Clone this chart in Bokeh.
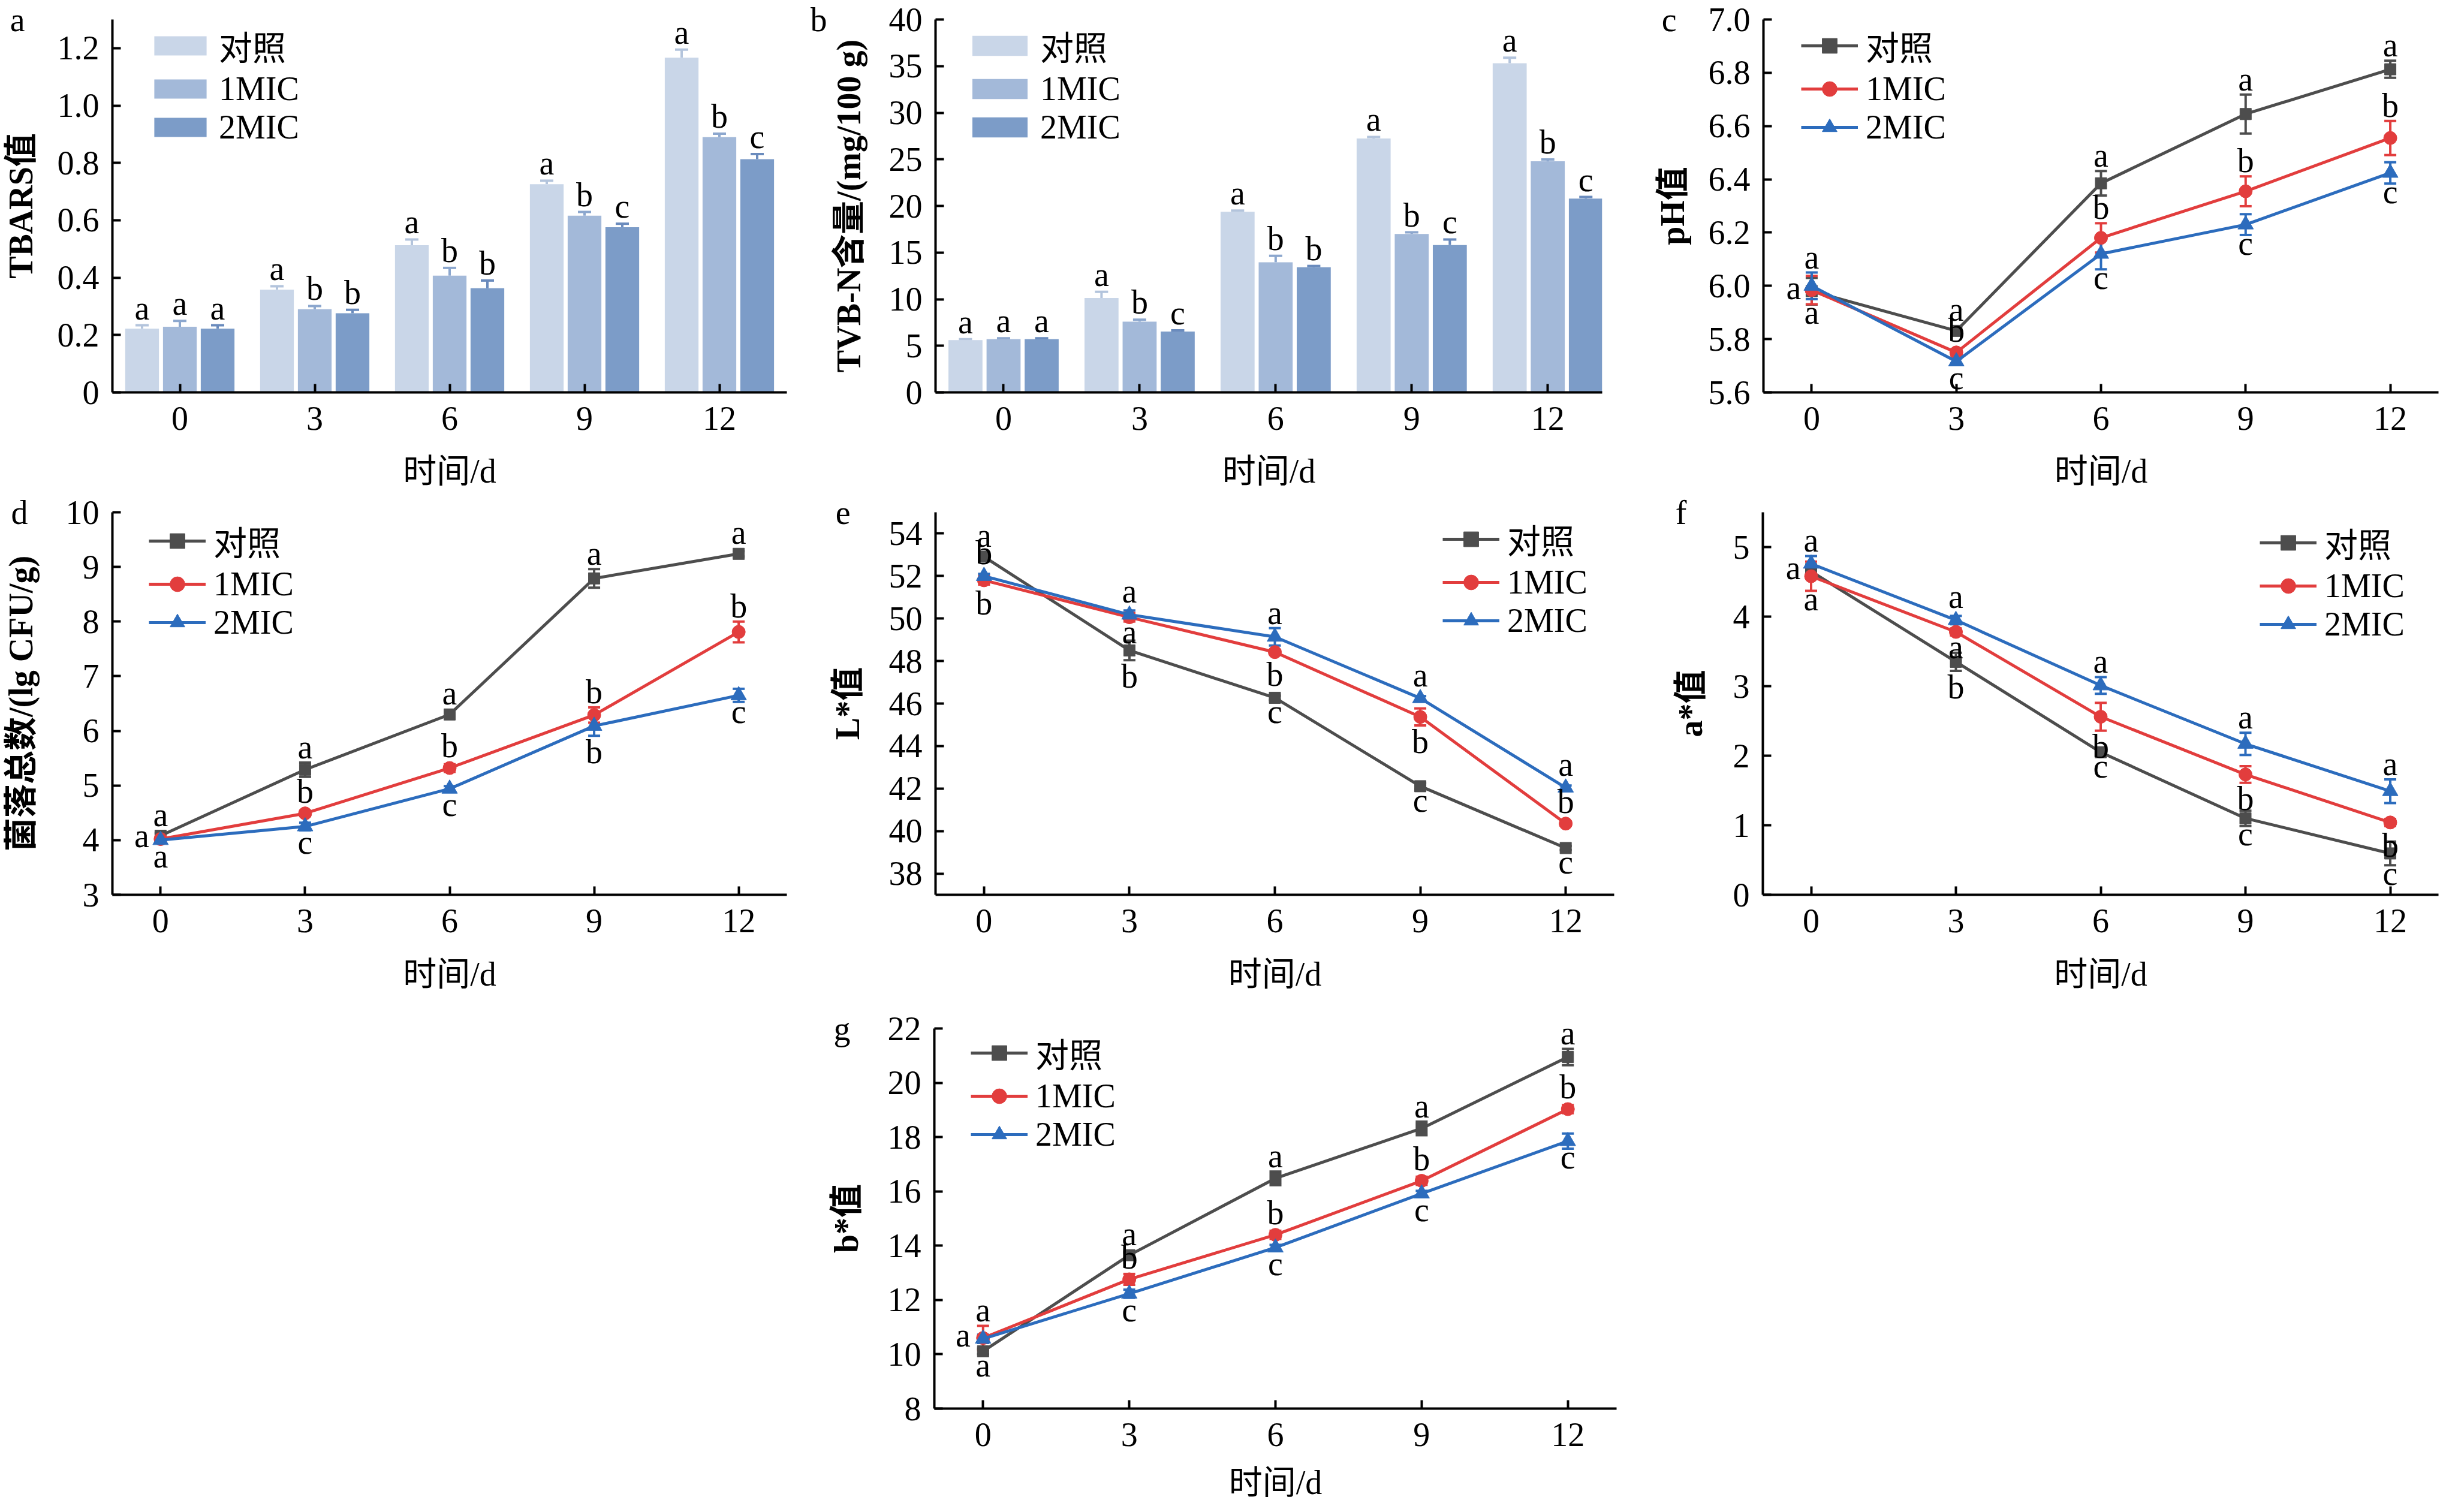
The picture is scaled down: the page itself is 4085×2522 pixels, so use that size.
import math
from bokeh.plotting import figure
from bokeh.layouts import row, column
from bokeh.models import (ColumnDataSource, Whisker, TeeHead, Legend, LegendItem,
                          LinearAxis, FixedTicker, Range1d, Spacer)
from bokeh.core.properties import value
from bokeh.embed import file_html
from bokeh.resources import INLINE

# ---------------- data ----------------
days = [0, 3, 6, 9, 12]
day_labels = ["0", "3", "6", "9", "12"]
series_names = ["对照", "1MIC", "2MIC"]

# a  TBARS
tbars_ctrl = [0.222, 0.358, 0.513, 0.726, 1.167]
tbars_ctrl_err = [0.012, 0.012, 0.020, 0.012, 0.028]
tbars_1mic = [0.229, 0.290, 0.407, 0.616, 0.890]
tbars_1mic_err = [0.020, 0.011, 0.027, 0.013, 0.012]
tbars_2mic = [0.222, 0.276, 0.363, 0.576, 0.813]
tbars_2mic_err = [0.012, 0.012, 0.027, 0.012, 0.018]
tbars_let_ctrl = ["a", "a", "a", "a", "a"]
tbars_let_1mic = ["a", "b", "b", "b", "b"]
tbars_let_2mic = ["a", "b", "b", "c", "c"]
tbars_yticks = [0, 0.2, 0.4, 0.6, 0.8, 1.0, 1.2]
tbars_ylabels = ["0", "0.2", "0.4", "0.6", "0.8", "1.0", "1.2"]

# b  TVB-N
tvbn_ctrl = [5.61, 10.13, 19.37, 27.23, 35.31]
tvbn_ctrl_err = [0.10, 0.66, 0.13, 0.17, 0.59]
tvbn_1mic = [5.71, 7.59, 13.96, 17.00, 24.79]
tvbn_1mic_err = [0.10, 0.20, 0.69, 0.17, 0.20]
tvbn_2mic = [5.71, 6.53, 13.43, 15.81, 20.79]
tvbn_2mic_err = [0.10, 0.13, 0.13, 0.59, 0.17]
tvbn_let_ctrl = ["a", "a", "a", "a", "a"]
tvbn_let_1mic = ["a", "b", "b", "b", "b"]
tvbn_let_2mic = ["a", "c", "b", "c", "c"]
tvbn_yticks = [0, 5, 10, 15, 20, 25, 30, 35, 40]
tvbn_ylabels = ["0", "5", "10", "15", "20", "25", "30", "35", "40"]

# c  pH
ph_ctrl = [5.980, 5.831, 6.385, 6.645, 6.813]
ph_ctrl_err = [0.050, 0.010, 0.046, 0.073, 0.032]
ph_1mic = [5.984, 5.750, 6.180, 6.355, 6.555]
ph_1mic_err = [0.053, 0.012, 0.055, 0.056, 0.064]
ph_2mic = [6.000, 5.716, 6.120, 6.230, 6.424]
ph_2mic_err = [0.050, 0.012, 0.058, 0.039, 0.040]
ph_let_ctrl = ["a", "a", "a", "a", "a"]
ph_let_1mic = ["a", "b", "b", "b", "b"]
ph_let_2mic = ["a", "c", "c", "c", "c"]
ph_side_ctrl = ["l", "u", "u", "u", "u"]
ph_side_1mic = ["d", "u", "u", "u", "u"]
ph_side_2mic = ["u", "d", "d", "d", "d"]
ph_yticks = [5.6, 5.8, 6.0, 6.2, 6.4, 6.6, 6.8, 7.0]
ph_ylabels = ["5.6", "5.8", "6.0", "6.2", "6.4", "6.6", "6.8", "7.0"]

# d  total viable count
tvc_ctrl = [4.08, 5.29, 6.30, 8.79, 9.24]
tvc_ctrl_err = [0.05, 0.13, 0.04, 0.17, 0.05]
tvc_1mic = [4.02, 4.49, 5.32, 6.29, 7.81]
tvc_1mic_err = [0.04, 0.05, 0.07, 0.14, 0.19]
tvc_2mic = [4.00, 4.25, 4.94, 6.09, 6.65]
tvc_2mic_err = [0.04, 0.07, 0.05, 0.18, 0.12]
tvc_let_ctrl = ["a", "a", "a", "a", "a"]
tvc_let_1mic = ["a", "b", "b", "b", "b"]
tvc_let_2mic = ["a", "c", "c", "b", "c"]
tvc_side_ctrl = ["u", "u", "u", "u", "u"]
tvc_side_1mic = ["l", "u", "u", "u", "u"]
tvc_side_2mic = ["d", "d", "d", "d", "d"]
tvc_yticks = [3, 4, 5, 6, 7, 8, 9, 10]
tvc_ylabels = ["3", "4", "5", "6", "7", "8", "9", "10"]

# e  L*
l_ctrl = [52.91, 48.50, 46.27, 42.11, 39.20]
l_ctrl_err = [0.15, 0.46, 0.10, 0.15, 0.10]
l_1mic = [51.80, 50.06, 48.42, 45.37, 40.35]
l_1mic_err = [0.20, 0.20, 0.10, 0.40, 0.10]
l_2mic = [52.00, 50.18, 49.14, 46.25, 42.04]
l_2mic_err = [0.10, 0.20, 0.41, 0.10, 0.10]
l_let_ctrl = ["a", "b", "c", "c", "c"]
l_let_1mic = ["b", "a", "b", "b", "b"]
l_let_2mic = ["b", "a", "a", "a", "a"]
l_side_ctrl = ["u", "d", "d", "d", "d"]
l_side_1mic = ["d", "d", "d", "d", "u"]
l_side_2mic = ["u", "u", "u", "u", "u"]
l_yticks = [38, 40, 42, 44, 46, 48, 50, 52, 54]
l_ylabels = ["38", "40", "42", "44", "46", "48", "50", "52", "54"]

# f  a*
a_ctrl = [4.65, 3.35, 2.05, 1.10, 0.595]
a_ctrl_err = [0.10, 0.13, 0.05, 0.11, 0.17]
a_1mic = [4.58, 3.78, 2.56, 1.73, 1.04]
a_1mic_err = [0.21, 0.05, 0.20, 0.12, 0.05]
a_2mic = [4.76, 3.95, 3.01, 2.17, 1.49]
a_2mic_err = [0.11, 0.06, 0.12, 0.16, 0.17]
a_let_ctrl = ["a", "b", "c", "c", "c"]
a_let_1mic = ["a", "a", "b", "b", "b"]
a_let_2mic = ["a", "a", "a", "a", "a"]
a_side_ctrl = ["l", "d", "d", "d", "d"]
a_side_1mic = ["d", "d", "d", "d", "d"]
a_side_2mic = ["u", "u", "u", "u", "u"]
a_yticks = [0, 1, 2, 3, 4, 5]
a_ylabels = ["0", "1", "2", "3", "4", "5"]

# g  b*
b_ctrl = [10.11, 13.65, 16.48, 18.32, 20.95]
b_ctrl_err = [0.10, 0.10, 0.25, 0.25, 0.30]
b_1mic = [10.60, 12.76, 14.40, 16.39, 19.03]
b_1mic_err = [0.45, 0.20, 0.15, 0.15, 0.15]
b_2mic = [10.57, 12.23, 13.93, 15.92, 17.85]
b_2mic_err = [0.15, 0.15, 0.10, 0.10, 0.28]
b_let_ctrl = ["a", "a", "a", "a", "a"]
b_let_1mic = ["a", "b", "b", "b", "b"]
b_let_2mic = ["a", "c", "c", "c", "c"]
b_side_ctrl = ["d", "u", "u", "u", "u"]
b_side_1mic = ["u", "u", "u", "u", "u"]
b_side_2mic = ["l", "d", "d", "d", "d"]
b_yticks = [8, 10, 12, 14, 16, 18, 20, 22]
b_ylabels = ["8", "10", "12", "14", "16", "18", "20", "22"]

# ---------------- style ----------------
FONT = "Liberation Serif, Noto Sans CJK SC"
FSPX = 56
FS = "56px"
TEXT_H = 62          # approx. line box of a 56px Liberation Serif text
MID_TO_BASE = 19     # distance from text middle to baseline
BAR_COLORS = ["#C9D6E8", "#A3B9D9", "#7C9CC8"]
ERR_COLORS = ["#B3C4DC", "#8CA7CE", "#6A8BBD"]
LINE_COLORS = ["#4D4D4D", "#E23D3D", "#2C6CBD"]
MARKERS = ["square", "circle", "triangle"]
MSIZE = [19, 22, 26]
CW = {"0": 0.5, "1": 0.5, "2": 0.5, "3": 0.5, "4": 0.5, "5": 0.5, "6": 0.5, "7": 0.5,
      "8": 0.5, "9": 0.5, ".": 0.25, "a": 0.444, "b": 0.5, "c": 0.444, "d": 0.5,
      "e": 0.444, "f": 0.333, "g": 0.5}

FRAME = {}


def text_w(s):
    return sum(CW.get(ch, 0.5) for ch in s) * FSPX


def make_fig(w, h, bl, br, bt, bb, xr, yr, xticks, xlabels, yticks, ylabels,
             letter, letter_r, ylab, ylab_c, xlab_standoff=35):
    p = figure(width=w, height=h, title=None, x_range=Range1d(*xr), y_range=Range1d(*yr),
               output_backend="svg", toolbar_location=None,
               min_border_left=bl, min_border_right=br, min_border_top=bt, min_border_bottom=bb)
    p.outline_line_color = None
    p.xgrid.visible = False
    p.ygrid.visible = False
    p.xaxis.ticker = FixedTicker(ticks=xticks)
    p.xaxis.major_label_overrides = dict(zip(xticks, xlabels))
    p.yaxis.ticker = FixedTicker(ticks=yticks)
    p.yaxis.major_label_overrides = dict(zip(yticks, ylabels))
    for ax in list(p.xaxis) + list(p.yaxis):
        ax.axis_line_width = 4
        ax.axis_line_color = "black"
        ax.major_tick_line_width = 4
        ax.major_tick_line_color = "black"
        ax.major_tick_in = 14
        ax.major_tick_out = 0
        ax.minor_tick_in = 0
        ax.minor_tick_out = 0
        ax.major_label_text_font = FONT
        ax.major_label_text_font_size = FS
        ax.major_label_text_color = "black"
    p.xaxis.major_label_standoff = 24
    p.yaxis.major_label_standoff = 22
    # x axis title
    p.xaxis.axis_label = "时间/d"
    p.xaxis.axis_label_text_font = FONT
    p.xaxis.axis_label_text_font_size = FS
    p.xaxis.axis_label_text_font_style = "normal"
    p.xaxis.axis_label_text_color = "black"
    p.xaxis.axis_label_standoff = xlab_standoff
    # outer left axis: panel letter (as its only tick label) and the y title
    w1 = 22 + max(text_w(s) for s in ylabels)
    wl = text_w(letter)
    s2 = int(round(letter_r - w1))
    s3 = int(round(ylab_c - TEXT_H / 2 - (letter_r + wl)))
    top = yr[1]
    ax2 = LinearAxis(ticker=FixedTicker(ticks=[top]), major_label_overrides={top: letter},
                     axis_line_color=None, major_tick_line_color=None,
                     minor_tick_line_color=None, major_tick_in=0, major_tick_out=0,
                     minor_tick_in=0, minor_tick_out=0,
                     major_label_standoff=s2, major_label_text_font=FONT,
                     major_label_text_font_size=FS, major_label_text_color="black",
                     axis_label=ylab, axis_label_standoff=s3, axis_label_text_font=FONT,
                     axis_label_text_font_size=FS, axis_label_text_font_style="bold",
                     axis_label_text_color="black")
    p.add_layout(ax2, "left")
    FRAME[p.id] = (w - bl - br, h - bt - bb)
    return p


def add_legend(p, items, x, y, gw, gh, standoff, spacing):
    lg = Legend(items=items, location=(x, y), orientation="vertical",
                border_line_color=None, background_fill_alpha=0,
                label_text_font=FONT, label_text_font_size=FS, label_text_color="black",
                glyph_width=gw, glyph_height=gh, label_standoff=standoff,
                spacing=spacing, padding=0, margin=0)
    p.add_layout(lg)


def bar_panel(p, vals, errs, letters):
    offs = [-0.28, 0.0, 0.28]
    items = []
    for k in range(3):
        xs = [i + offs[k] for i in range(len(days))]
        up = [v + e for v, e in zip(vals[k], errs[k])]
        src = ColumnDataSource(dict(x=xs, top=vals[k], up=up, lab=letters[k]))
        r = p.vbar(x="x", top="top", width=0.25, source=src,
                   fill_color=BAR_COLORS[k], line_color=None)
        p.add_layout(Whisker(base="x", lower="top", upper="up", source=src, dimension="height",
                             line_color=ERR_COLORS[k], line_width=4,
                             upper_head=TeeHead(size=22, line_color=ERR_COLORS[k], line_width=4),
                             lower_head=None))
        p.text(x="x", y="up", text="lab", source=src, text_align="center",
               text_baseline="middle", y_offset=-(10 + MID_TO_BASE), text_font=value(FONT),
               text_font_size=value(FS), text_color="black")
        items.append(LegendItem(label=series_names[k], renderers=[r]))
    return items


def line_panel(p, vals, errs, letters, sides, yr):
    fw, fh = FRAME[p.id]
    ppu = fh / (yr[1] - yr[0])
    gap = 7
    items = []
    groups = {"u": dict(x=[], y=[], t=[], xo=[], yo=[]),
              "d": dict(x=[], y=[], t=[], xo=[], yo=[]),
              "l": dict(x=[], y=[], t=[], xo=[], yo=[])}
    for k in range(3):
        c = LINE_COLORS[k]
        lo = [v - e for v, e in zip(vals[k], errs[k])]
        hi = [v + e for v, e in zip(vals[k], errs[k])]
        src = ColumnDataSource(dict(x=days, y=vals[k], lo=lo, hi=hi))
        ln = p.line("x", "y", source=src, line_color=c, line_width=5)
        sc = p.scatter("x", "y", source=src, marker=MARKERS[k], size=MSIZE[k],
                       fill_color=c, line_color=c)
        p.add_layout(Whisker(base="x", lower="lo", upper="hi", source=src, dimension="height",
                             line_color=c, line_width=4,
                             upper_head=TeeHead(size=20, line_color=c, line_width=4),
                             lower_head=TeeHead(size=20, line_color=c, line_width=4)))
        items.append(LegendItem(label=series_names[k], renderers=[ln, sc]))
        r = MSIZE[k] / 2
        for i in range(len(days)):
            s = sides[k][i]
            t = letters[k][i]
            reach = max(errs[k][i] * ppu, r)
            g = groups[s]
            g["x"].append(days[i])
            g["y"].append(vals[k][i])
            g["t"].append(t)
            if s == "u":
                g["xo"].append(0)
                g["yo"].append(-(reach + gap + MID_TO_BASE))
            elif s == "d":
                h = (0.69 if t == "b" else 0.46) * FSPX
                g["xo"].append(0)
                g["yo"].append(reach + gap + h - MID_TO_BASE)
            else:
                g["xo"].append(-(r + 8))
                g["yo"].append(-6)
    for s, g in groups.items():
        if not g["x"]:
            continue
        p.text(x="x", y="y", text="t", x_offset="xo", y_offset="yo",
               source=ColumnDataSource(g), text_align="right" if s == "l" else "center",
               text_baseline="middle", text_font=value(FONT), text_font_size=value(FS),
               text_color="black")
    return items


bar_xticks = [0, 1, 2, 3, 4]
line_xr = (-1, 13)

# ---- a ----
pa = make_fig(1352, 822, 178, 40, 32, 168, (-0.5, 4.5), (0, 1.3),
              bar_xticks, day_labels, tbars_yticks, tbars_ylabels, "a", 143, "TBARS值", 147)
items = bar_panel(pa, [tbars_ctrl, tbars_1mic, tbars_2mic],
                  [tbars_ctrl_err, tbars_1mic_err, tbars_2mic_err],
                  [tbars_let_ctrl, tbars_let_1mic, tbars_let_2mic])
add_legend(pa, items, 59, 410, 109, 40, 10, 0)

# ---- b ----
pb = make_fig(1360, 822, 208, 40, 32, 168, (-0.5, 4.4), (0, 40),
              bar_xticks, day_labels, tvbn_yticks, tvbn_ylabels, "b", 178,
              "TVB-N含量/(mg/100 g)", 139)
items = bar_panel(pb, [tvbn_ctrl, tvbn_1mic, tvbn_2mic],
                  [tvbn_ctrl_err, tvbn_1mic_err, tvbn_2mic_err],
                  [tvbn_let_ctrl, tvbn_let_1mic, tvbn_let_2mic])
add_legend(pb, items, 50, 410, 115, 42, 10, 0)

# ---- c ----
pc = make_fig(1357, 822, 229, 2, 32, 168, line_xr, (5.6, 7.0),
              days, day_labels, ph_yticks, ph_ylabels, "c", 142, "pH值", 146)
items = line_panel(pc, [ph_ctrl, ph_1mic, ph_2mic], [ph_ctrl_err, ph_1mic_err, ph_2mic_err],
                   [ph_let_ctrl, ph_let_1mic, ph_let_2mic],
                   [ph_side_ctrl, ph_side_1mic, ph_side_2mic], (5.6, 7.0))
add_legend(pc, items, 63, 410, 95, 62, 13, 0)

# ---- d ----
pd_ = make_fig(1352, 850, 178, 40, 32, 180, line_xr, (3, 10),
               days, day_labels, tvc_yticks, tvc_ylabels, "d", 138,
               "菌落总数/(lg CFU/g)", 147, xlab_standoff=36)
items = line_panel(pd_, [tvc_ctrl, tvc_1mic, tvc_2mic], [tvc_ctrl_err, tvc_1mic_err, tvc_2mic_err],
                   [tvc_let_ctrl, tvc_let_1mic, tvc_let_2mic],
                   [tvc_side_ctrl, tvc_side_1mic, tvc_side_2mic], (3, 10))
add_legend(pd_, items, 61, 422, 95, 62, 13, 0)

# ---- e ----
pe = make_fig(1360, 850, 208, 20, 32, 180, line_xr, (37, 55),
              days, day_labels, l_yticks, l_ylabels, "e", 139, "L*值", 141, xlab_standoff=36)
items = line_panel(pe, [l_ctrl, l_1mic, l_2mic], [l_ctrl_err, l_1mic_err, l_2mic_err],
                   [l_let_ctrl, l_let_1mic, l_let_2mic],
                   [l_side_ctrl, l_side_1mic, l_side_2mic], (37, 55))
add_legend(pe, items, 846, 425, 95, 62, 13, 0)

# ---- f ----
pf = make_fig(1357, 850, 228, 2, 32, 180, line_xr, (0, 5.5),
              days, day_labels, a_yticks, a_ylabels, "f", 124, "a*值", 115, xlab_standoff=36)
items = line_panel(pf, [a_ctrl, a_1mic, a_2mic], [a_ctrl_err, a_1mic_err, a_2mic_err],
                   [a_let_ctrl, a_let_1mic, a_let_2mic],
                   [a_side_ctrl, a_side_1mic, a_side_2mic], (0, 5.5))
add_legend(pf, items, 829, 419, 95, 62, 13, 0)

# ---- g ----
pg = make_fig(1360, 834, 206, 16, 43, 147, line_xr, (8, 22),
              days, day_labels, b_yticks, b_ylabels, "g", 137, "b*值", 141, xlab_standoff=27)
items = line_panel(pg, [b_ctrl, b_1mic, b_2mic], [b_ctrl_err, b_1mic_err, b_2mic_err],
                   [b_let_ctrl, b_let_1mic, b_let_2mic],
                   [b_side_ctrl, b_side_1mic, b_side_2mic], (8, 22))
add_legend(pg, items, 61, 425, 95, 62, 13, 0)

layout = column(row(pa, pb, pc), row(pd_, pe, pf), row(Spacer(width=1352, height=834), pg))

open("out.html", "w").write(file_html(layout, INLINE))
